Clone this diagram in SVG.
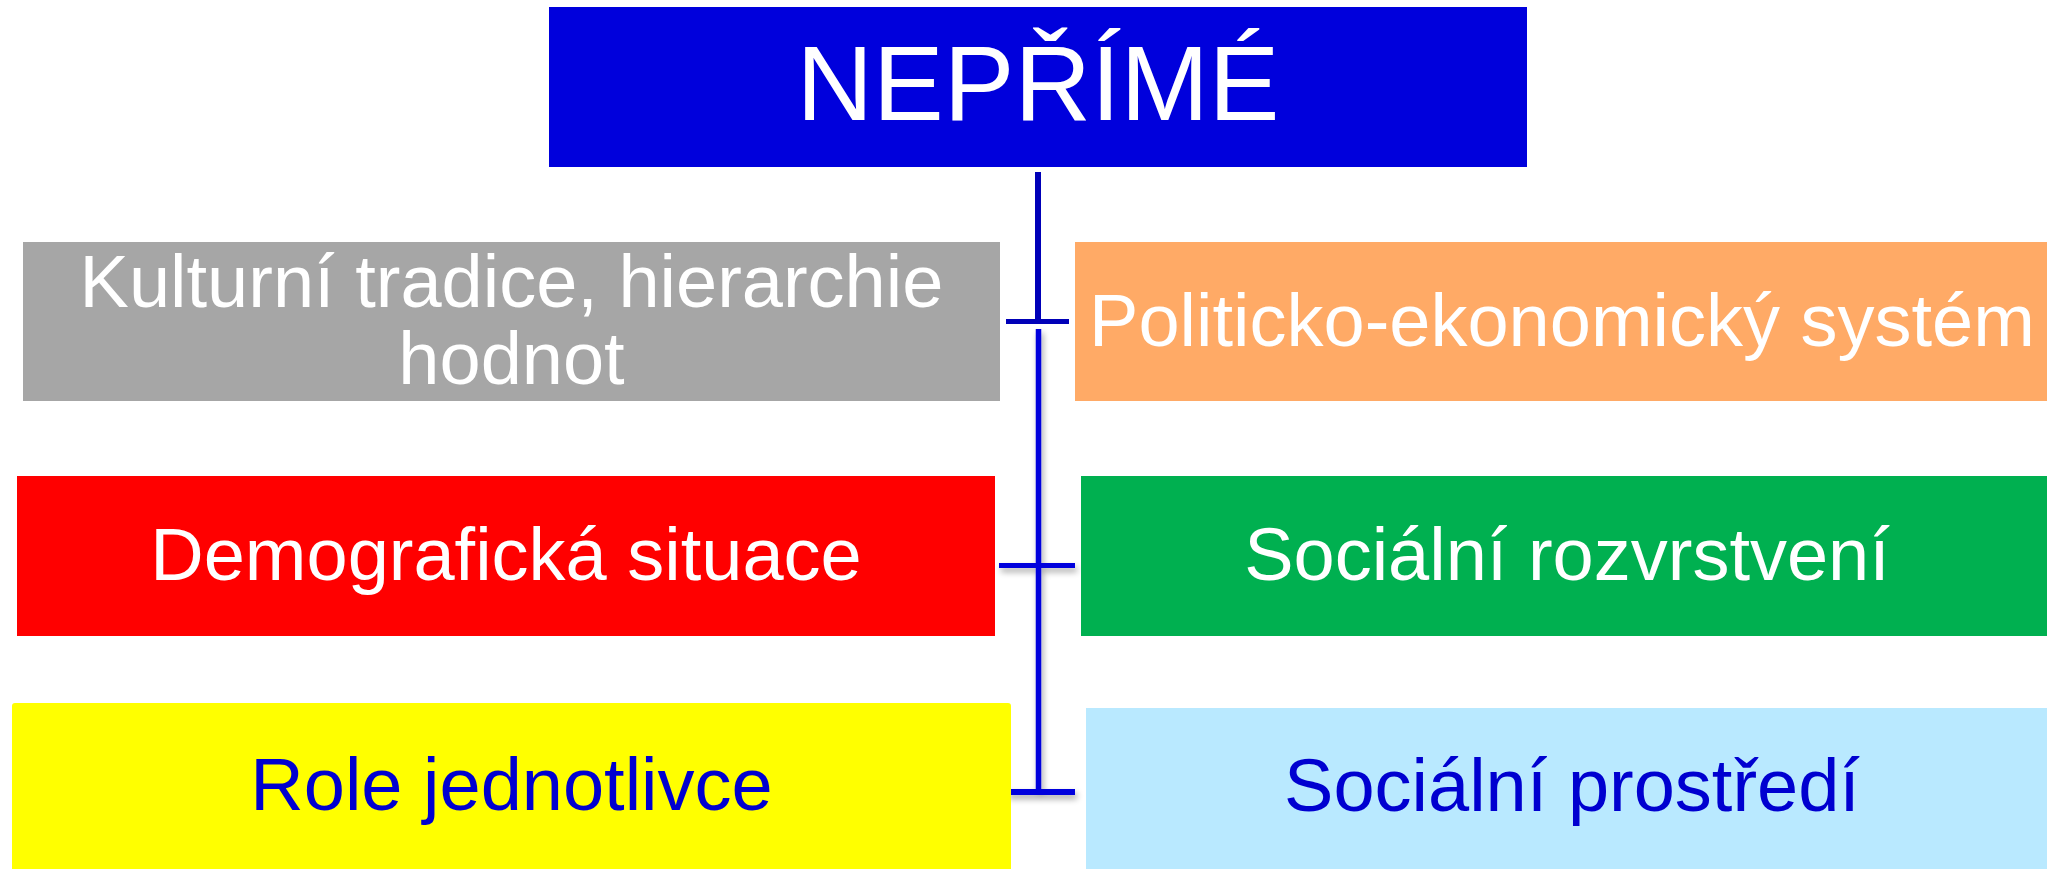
<svg xmlns="http://www.w3.org/2000/svg" width="2047" height="869" viewBox="0 0 2047 869">
<defs>
<style>
.t{font-family:"Liberation Sans",Arial,sans-serif;font-size:74px;text-anchor:middle}
.w{fill:#FFFFFF}
.b{fill:#0000D0}
.c1{stroke:#0000B8;fill:none}
.c2{stroke:#0000DD;fill:none}
</style>
<filter id="sh" x="-50%" y="-50%" width="200%" height="200%">
<feGaussianBlur in="SourceAlpha" stdDeviation="3"/>
<feOffset dx="2" dy="4" result="o"/>
<feComponentTransfer><feFuncA type="linear" slope="0.35"/></feComponentTransfer>
<feMerge><feMergeNode/><feMergeNode in="SourceGraphic"/></feMerge>
</filter>
</defs>
<rect width="2047" height="869" fill="#FFFFFF"/>
<g id="connectors">
<g class="c1">
<line x1="1038" y1="172" x2="1038" y2="324" stroke-width="6"/>
<line x1="1006" y1="321.5" x2="1069" y2="321.5" stroke-width="5"/>
</g>
<g class="c2" filter="url(#sh)">
<line x1="1038.5" y1="329" x2="1038.5" y2="792" stroke-width="5.5"/>
<line x1="999" y1="565.5" x2="1075" y2="565.5" stroke-width="5"/>
<line x1="1007" y1="792" x2="1075" y2="792" stroke-width="6"/>
</g>
</g>
<g id="n-neprime">
<rect x="549" y="7" width="978" height="160" fill="#0000DC"/>
<text class="t w" x="1038" y="120" style="font-size:106px">NEPŘÍMÉ</text>
</g>
<g id="n-kulturni">
<rect x="23" y="242" width="977" height="159" fill="#A6A6A6"/>
<text class="t w" x="511.5" y="307">Kulturní tradice, hierarchie</text>
<text class="t w" x="511.5" y="384">hodnot</text>
</g>
<g id="n-politicko">
<rect x="1075" y="242" width="972" height="159" fill="#FFAA66"/>
<text class="t w" x="1562" y="346">Politicko-ekonomický systém</text>
</g>
<g id="n-demograficka">
<rect x="17" y="476" width="978" height="160" fill="#FF0000"/>
<text class="t w" x="506" y="580">Demografická situace</text>
</g>
<g id="n-socialni-rozvrstveni">
<rect x="1081" y="476" width="966" height="160" fill="#00B050"/>
<text class="t w" x="1567" y="580">Sociální rozvrstvení</text>
</g>
<g id="n-role">
<rect x="12" y="703" width="999" height="170" rx="3" fill="#FFFF00"/>
<text class="t b" x="511.5" y="810">Role jednotlivce</text>
</g>
<g id="n-socialni-prostredi">
<rect x="1086" y="708" width="961" height="161" fill="#B9E9FF"/>
<text class="t b" x="1572" y="811">Sociální prostředí</text>
</g>
</svg>
